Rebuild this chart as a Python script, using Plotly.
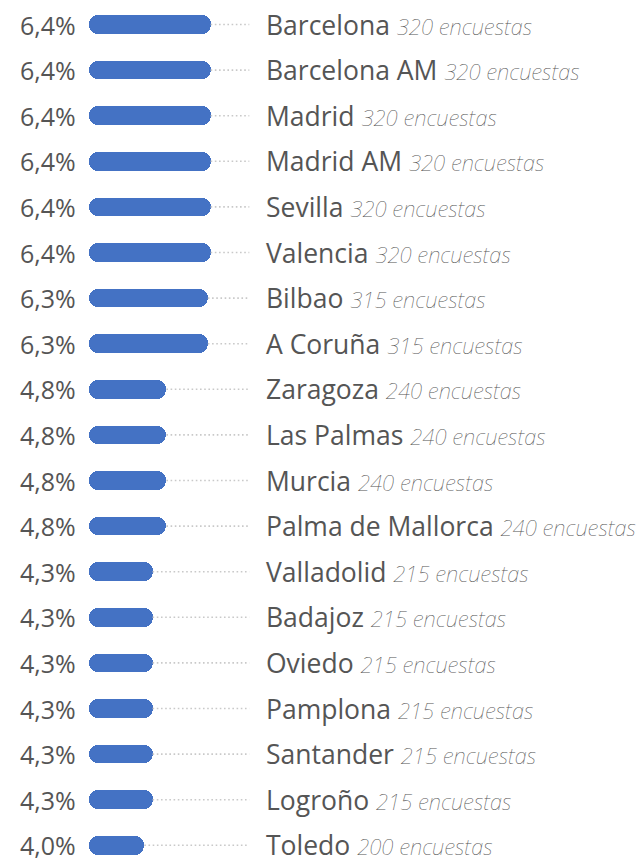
import plotly.graph_objects as go

cities = ["Barcelona", "Barcelona AM", "Madrid", "Madrid AM", "Sevilla", "Valencia",
          "Bilbao", "A Coruña", "Zaragoza", "Las Palmas", "Murcia", "Palma de Mallorca",
          "Valladolid", "Badajoz", "Oviedo", "Pamplona", "Santander", "Logroño", "Toledo"]
pct = [6.4, 6.4, 6.4, 6.4, 6.4, 6.4, 6.3, 6.3, 4.8, 4.8, 4.8, 4.8,
       4.3, 4.3, 4.3, 4.3, 4.3, 4.3, 4.0]
surveys = [320, 320, 320, 320, 320, 320, 315, 315, 240, 240, 240, 240,
           215, 215, 215, 215, 215, 215, 200]

OFF = 8                 # page body margin
W, H = 644 - OFF, 858 - OFF
BAR_BASE = 2.0          # axis value where bars start
PX_PER_UNIT = 27.64
BAR_LEFT_PX = 89 - OFF
DOT_END = 7.8
BAR_COLOR = "#4472c4"
FONT = "Open Sans"
SUB_STYLE = "font-size:22px;font-family:\"Noto Sans\";font-weight:100;color:#555"

x0 = BAR_BASE - BAR_LEFT_PX / PX_PER_UNIT
x1 = x0 + W / PX_PER_UNIT
ROW_H = 45.6
FIRST_Y = 24.5 - OFF
y_top = -FIRST_Y / ROW_H
y_bot = y_top + H / ROW_H

fig = go.Figure()

# dotted leader lines (drawn first, under bars)
for c, v in zip(cities, pct):
    fig.add_trace(go.Scatter(
        x=[v, DOT_END], y=[c, c], mode="lines",
        line=dict(color="#c9c9c9", width=1.6, dash="1.6px,2.6px"),
        hoverinfo="skip", showlegend=False))

fig.add_trace(go.Bar(
    y=cities, x=[v - BAR_BASE for v in pct], base=BAR_BASE,
    orientation="h", width=0.41,
    marker=dict(color=BAR_COLOR, cornerradius="50%", line=dict(width=0)),
    hoverinfo="skip", showlegend=False))

annotations = []
for c, v, n in zip(cities, pct, surveys):
    annotations.append(dict(
        xref="paper", yref="y", x=(78 - OFF) / W, y=c, xanchor="right", yanchor="middle",
        text=f"{v:.1f}".replace(".", ",") + "%", showarrow=False,
        font=dict(family=FONT, size=25, color="#555555")))
    annotations.append(dict(
        xref="paper", yref="y", x=(264 - OFF) / W, y=c, xanchor="left", yanchor="middle",
        text=f"{c} <span style='{SUB_STYLE}'><i>{n} encuestas</i></span>",
        showarrow=False,
        font=dict(family=FONT, size=26.5, color="#555555")))

fig.update_layout(
    width=W, height=H, margin=dict(l=0, r=0, t=0, b=0),
    paper_bgcolor="white", plot_bgcolor="white",
    xaxis=dict(range=[x0, x1], visible=False, fixedrange=True),
    yaxis=dict(range=[y_bot, y_top], visible=False, type="category",
               categoryorder="array", categoryarray=cities, fixedrange=True),
    annotations=annotations, bargap=0, showlegend=False,
)

fig.write_html("out.html")
